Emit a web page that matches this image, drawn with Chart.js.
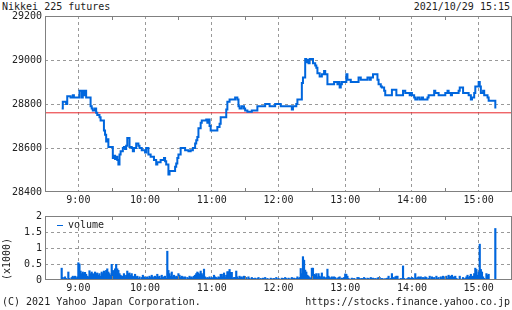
<!DOCTYPE html>
<html>
<head>
<meta charset="utf-8">
<script src="https://cdn.jsdelivr.net/npm/chart.js@4.4.1/dist/chart.umd.min.js"></script>
<style>
  body { margin: 0; background: #fff; }
  #wrap { position: relative; width: 512px; height: 310px; overflow: hidden;
          font-family: 'DejaVu Sans Mono', monospace; font-size: 10px; color: #222; }
  .txt { position: absolute; line-height: 12px; white-space: nowrap; }
  canvas { position: absolute; left: 0; }
</style>
</head>
<body>
<div id="wrap">
  <div class="txt" style="left:2px;top:1px">Nikkei 225 futures</div>
  <div class="txt" style="right:2px;top:1px">2021/10/29 15:15</div>
  <canvas id="priceChart" width="512" height="210" style="top:0"></canvas>
  <canvas id="volumeChart" width="512" height="92" style="top:205px"></canvas>
  <div class="txt" style="left:57px;top:219px"><span style="display:inline-block;width:6px;height:1px;background:#0066dd;vertical-align:middle;margin-right:5px"></span>volume</div>
  <div class="txt" style="left:2px;top:296px">(C) 2021 Yahoo Japan Corporation.</div>
  <div class="txt" style="right:2px;top:296px">https://stocks.finance.yahoo.co.jp</div>
</div>
<script>
// --- data ---
const axisStart = '8:30';
const axisEnd = '15:30';
const hourTicks = ['9:00', '10:00', '11:00', '12:00', '13:00', '14:00', '15:00'];
const halfHourTicks = ['9:30', '10:30', '11:30', '12:30', '13:30', '14:30'];

const priceTicks = [28400, 28600, 28800, 29000, 29200];
const prevClose = 28760;

// price changes (step line): time of change and new price
const priceTimes = [
  '8:45', '8:46', '8:49', '8:50', '8:53', '8:55', '8:56', '9:01', '9:03', '9:04', '9:05', '9:06', '9:07', '9:11', '9:12', '9:13', '9:15', '9:16', '9:17', '9:19', '9:20', '9:23', '9:24', '9:25', '9:26', '9:27', '9:31', '9:32', '9:33', '9:34', '9:35', '9:36', '9:37', '9:38', '9:40', '9:41', '9:42', '9:43', '9:44', '9:46', '9:48', '9:49', '9:50', '9:52', '9:54', '9:55', '9:57',
  '10:00', '10:01', '10:03', '10:05', '10:08', '10:10', '10:11', '10:14', '10:17', '10:18', '10:19', '10:21', '10:22', '10:27', '10:28', '10:29', '10:30', '10:32', '10:36', '10:39', '10:41', '10:43', '10:45', '10:46', '10:47', '10:48', '10:50', '10:51', '10:55', '10:56', '10:57', '10:58', '10:59',
  '11:05', '11:07', '11:08', '11:13', '11:14', '11:16', '11:21', '11:23', '11:24', '11:25', '11:27', '11:29', '11:30', '11:32', '11:36', '11:41', '11:48', '11:52', '11:57',
  '12:02', '12:12', '12:13', '12:16', '12:17', '12:21', '12:22', '12:24', '12:25', '12:26', '12:27', '12:28', '12:31', '12:33', '12:34', '12:35', '12:37', '12:39', '12:41', '12:42', '12:44', '12:50', '12:53', '12:54', '12:55', '12:56', '12:57',
  '13:01', '13:02', '13:05', '13:12', '13:14', '13:20', '13:22', '13:23', '13:25', '13:29', '13:30', '13:32', '13:33', '13:35', '13:36', '13:42', '13:46', '13:52', '13:54', '13:58', '13:59',
  '14:00', '14:02', '14:03', '14:05', '14:07', '14:09', '14:10', '14:14', '14:15', '14:20', '14:21', '14:24', '14:30', '14:32', '14:33', '14:35', '14:36', '14:42', '14:43', '14:46', '14:51', '14:53', '14:54', '14:56', '14:57', '15:00', '15:01', '15:02', '15:04', '15:05', '15:08', '15:09', '15:15'
];
const prices = [
  28780, 28810, 28800, 28835, 28830, 28840, 28830, 28860, 28830, 28860, 28840, 28860, 28830, 28790, 28780, 28770, 28780, 28760, 28750, 28740, 28725, 28680, 28660, 28630, 28640, 28605, 28555, 28565, 28550, 28560, 28545, 28525, 28570, 28585, 28600, 28605, 28595, 28610, 28645, 28605, 28600, 28585, 28600, 28620, 28610, 28600, 28590,
  28580, 28600, 28570, 28560, 28545, 28525, 28535, 28545, 28555, 28540, 28525, 28480, 28495, 28515, 28530, 28555, 28570, 28600, 28590, 28585, 28590, 28600, 28620, 28635, 28650, 28690, 28715, 28725, 28730, 28715, 28730, 28700, 28680,
  28695, 28710, 28740, 28775, 28810, 28820, 28830, 28820, 28790, 28780, 28790, 28780, 28770, 28765, 28770, 28790, 28800, 28790, 28800,
  28790, 28775, 28790, 28800, 28820, 28895, 28920, 29005, 28990, 29000, 28985, 29005, 28985, 28975, 28965, 28940, 28925, 28935, 28950, 28935, 28890, 28900, 28890, 28900, 28875, 28890, 28900,
  28935, 28910, 28900, 28920, 28910, 28920, 28910, 28920, 28935, 28910, 28890, 28880, 28875, 28860, 28840, 28865, 28840, 28860, 28850, 28840, 28850,
  28840, 28830, 28820, 28830, 28820, 28830, 28820, 28830, 28840, 28860, 28850, 28840, 28850, 28860, 28850, 28840, 28850, 28860, 28875, 28850, 28840, 28820, 28830, 28850, 28880, 28900, 28880, 28850, 28860, 28840, 28830, 28815, 28780
];

// volume per minute (x1000), from 8:45
const volumeStart = '8:45';
const volumeTicks = [0, 0.5, 1, 1.5, 2];
const volumes = [
  0.37, 0.08, 0.03, 0.10, 0.05, 0.01, 0.25, 0.05, 0.02, 0.08, 0.12, 0.08, 0.12, 0.05, 0.10,
  0.54, 0.50, 0.28, 0.20, 0.25, 0.20, 0.24, 0.18, 0.12, 0.10, 0.29, 0.20, 0.25, 0.20, 0.18,
  0.25, 0.20, 0.22, 0.15, 0.20, 0.12, 0.25, 0.20, 0.28, 0.22, 0.30, 0.35, 0.25, 0.20, 0.15,
  0.49, 0.30, 0.28, 0.35, 0.49, 0.35, 0.30, 0.20, 0.15, 0.12, 0.12, 0.20, 0.10, 0.15, 0.28,
  0.20, 0.22, 0.15, 0.20, 0.12, 0.08, 0.18, 0.10, 0.12, 0.05, 0.10, 0.03, 0.08, 0.15, 0.10,
  0.05, 0.08, 0.10, 0.06, 0.12, 0.08, 0.15, 0.10, 0.05, 0.12, 0.08, 0.18, 0.10, 0.12, 0.05,
  0.15, 0.08, 0.10, 0.12, 0.05, 0.90, 0.30, 0.20, 0.12, 0.25, 0.10, 0.15, 0.08, 0.12, 0.10,
  0.20, 0.15, 0.08, 0.12, 0.10, 0.05, 0.10, 0.02, 0.08, 0.05, 0.12, 0.08, 0.10, 0.05, 0.12,
  0.15, 0.20, 0.25, 0.22, 0.18, 0.28, 0.20, 0.15, 0.34, 0.10, 0.05, 0.08, 0.06, 0.10, 0.05,
  0.08, 0.05, 0.15, 0.10, 0.08, 0.05, 0.10, 0.08, 0.18, 0.18, 0.10, 0.22, 0.08, 0.15, 0.26,
  0.26, 0.33, 0.24, 0.24, 0.05, 0.08, 0.08, 0.28, 0.10, 0.05, 0.12, 0.08, 0.10, 0.05, 0.12,
  0.05, 0.08, 0.03, 0.10, 0.05, 0.02, 0.08, 0.05, 0.03, 0.06, 0.02, 0.05, 0.08, 0.03, 0.05,
  0.02, 0.06, 0.03, 0.08, 0.02, 0.05, 0.03, 0.02, 0.06, 0.04, 0.03, 0.05, 0.02, 0.08, 0.03,
  0.05, 0.03, 0.02, 0.06, 0.05, 0.03, 0.08, 0.05, 0.02, 0.06, 0.04, 0.03, 0.08, 0.05, 0.06,
  0.03, 0.05, 0.10, 0.05, 0.08, 0.36, 0.20, 0.73, 0.62, 0.31, 0.25, 0.15, 0.12, 0.08, 0.05,
  0.37, 0.37, 0.18, 0.15, 0.20, 0.10, 0.20, 0.12, 0.08, 0.22, 0.06, 0.10, 0.05, 0.08, 0.34,
  0.12, 0.08, 0.05, 0.10, 0.05, 0.10, 0.08, 0.03, 0.05, 0.08, 0.10, 0.03, 0.06, 0.05, 0.08,
  0.19, 0.18, 0.12, 0.05, 0.02, 0.03, 0.06, 0.02, 0.05, 0.03, 0.02, 0.08, 0.08, 0.05, 0.03,
  0.05, 0.03, 0.08, 0.05, 0.02, 0.06, 0.05, 0.03, 0.08, 0.05, 0.06, 0.03, 0.05, 0.02, 0.06,
  0.08, 0.08, 0.03, 0.05, 0.02, 0.04, 0.03, 0.05, 0.06, 0.12, 0.03, 0.05, 0.20, 0.08, 0.05,
  0.10, 0.12, 0.12, 0.03, 0.02, 0.05, 0.03, 0.44, 0.05, 0.02, 0.03, 0.05, 0.08, 0.06, 0.05,
  0.08, 0.06, 0.03, 0.20, 0.05, 0.08, 0.10, 0.08, 0.10, 0.03, 0.08, 0.05, 0.10, 0.08, 0.03,
  0.05, 0.12, 0.03, 0.10, 0.05, 0.08, 0.03, 0.12, 0.05, 0.08, 0.02, 0.10, 0.05, 0.12, 0.03,
  0.10, 0.12, 0.05, 0.15, 0.10, 0.12, 0.15, 0.08, 0.10, 0.12, 0.05, 0.03, 0.02, 0.12, 0.03,
  0.02, 0.08, 0.03, 0.05, 0.10, 0.15, 0.08, 0.12, 0.18, 0.10, 0.12, 0.20, 0.37, 0.33, 0.15,
  0.25, 1.12, 0.33, 0.25, 0.10, 0.05, 0.02, 0.20, 0.15, 0.18, 0, 0, 0, 0, 0,
  1.61
];

// --- helpers ---
const toMin = t => { const [h, m] = t.split(':').map(Number); return h * 60 + m; };
const fmtTime = v => `${Math.floor(v / 60)}:${String(v % 60).padStart(2, '0')}`;

const FONT = { family: "'DejaVu Sans Mono', monospace", size: 10 };
const INK = '#222';
const GRID = '#999';
const FRAME = '#808080';
const BLUE = '#0066dd';
const RED = '#e8262a';

const xMin = toMin(axisStart);
const xMax = toMin(axisEnd);

// box round the plot area plus small half-hour marks top and bottom
const framePlugin = {
  id: 'frame',
  afterDraw(chart) {
    const { ctx, chartArea: a, scales: { x } } = chart;
    ctx.save();
    ctx.strokeStyle = FRAME;
    ctx.lineWidth = 1;
    ctx.strokeRect(a.left + 0.5, a.top + 0.5, a.right - a.left - 1, a.bottom - a.top - 1);
    ctx.beginPath();
    halfHourTicks.forEach(t => {
      const px = Math.round(x.getPixelForValue(toMin(t))) + 0.5;
      ctx.moveTo(px, a.top); ctx.lineTo(px, a.top + 4);
      ctx.moveTo(px, a.bottom); ctx.lineTo(px, a.bottom - 4);
    });
    ctx.stroke();
    ctx.restore();
  }
};

const timeAxis = (height) => ({
  type: 'linear',
  min: xMin,
  max: xMax,
  offset: false,
  afterFit: s => { s.height = height; },
  afterBuildTicks: s => { s.ticks = hourTicks.map(t => ({ value: toMin(t) })); },
  grid: { color: GRID, lineWidth: 1, drawTicks: false, offset: false },
  border: { display: false, dash: [3, 3] },
  ticks: {
    font: FONT, color: INK, padding: 2, maxRotation: 0, autoSkip: false,
    callback: v => fmtTime(v)
  }
});

const valueAxis = (ticks, extra) => Object.assign({
  min: ticks[0],
  max: ticks[ticks.length - 1],
  afterFit: s => { s.width = 45; },
  afterBuildTicks: s => { s.ticks = ticks.map(v => ({ value: v })); },
  grid: {
    drawTicks: false, lineWidth: 1,
    color: c => (c.tick && (c.tick.value === ticks[0] || c.tick.value === ticks[ticks.length - 1])) ? 'rgba(0,0,0,0)' : GRID
  },
  border: { display: false, dash: [3, 3] },
  ticks: { font: FONT, color: INK, padding: 3, callback: v => String(v) }
}, extra);

// --- price chart ---
new Chart(document.getElementById('priceChart'), {
  type: 'line',
  data: {
    datasets: [{
      data: priceTimes.map((t, i) => ({ x: toMin(t), y: prices[i] })),
      borderColor: BLUE,
      borderWidth: 2,
      stepped: true,
      pointRadius: 0,
      fill: false
    }, {
      data: [{ x: xMin, y: prevClose }, { x: xMax, y: prevClose }],
      borderColor: RED,
      borderWidth: 1,
      pointRadius: 0,
      fill: false
    }]
  },
  options: {
    responsive: false,
    animation: false,
    devicePixelRatio: 1,
    layout: { padding: { top: 16, right: 0, left: 0, bottom: 0 } },
    plugins: { legend: { display: false }, tooltip: { enabled: false } },
    scales: {
      x: timeAxis(18),
      y: valueAxis(priceTicks)
    }
  },
  plugins: [framePlugin]
});

// --- volume chart ---
const vStart = toMin(volumeStart);
new Chart(document.getElementById('volumeChart'), {
  type: 'bar',
  data: {
    datasets: [{
      data: volumes.map((v, i) => ({ x: vStart + i, y: v })),
      backgroundColor: BLUE,
      borderWidth: 0,
      barThickness: 1.5
    }]
  },
  options: {
    responsive: false,
    animation: false,
    devicePixelRatio: 1,
    layout: { padding: { top: 11, right: 0, left: 0, bottom: 0 } },
    plugins: { legend: { display: false }, tooltip: { enabled: false } },
    scales: {
      x: timeAxis(17),
      y: valueAxis(volumeTicks, {
        title: { display: true, text: '(x1000)', font: FONT, color: INK, align: 'start', padding: { top: 1, bottom: 0 } }
      })
    }
  },
  plugins: [framePlugin]
});
</script>
</body>
</html>
